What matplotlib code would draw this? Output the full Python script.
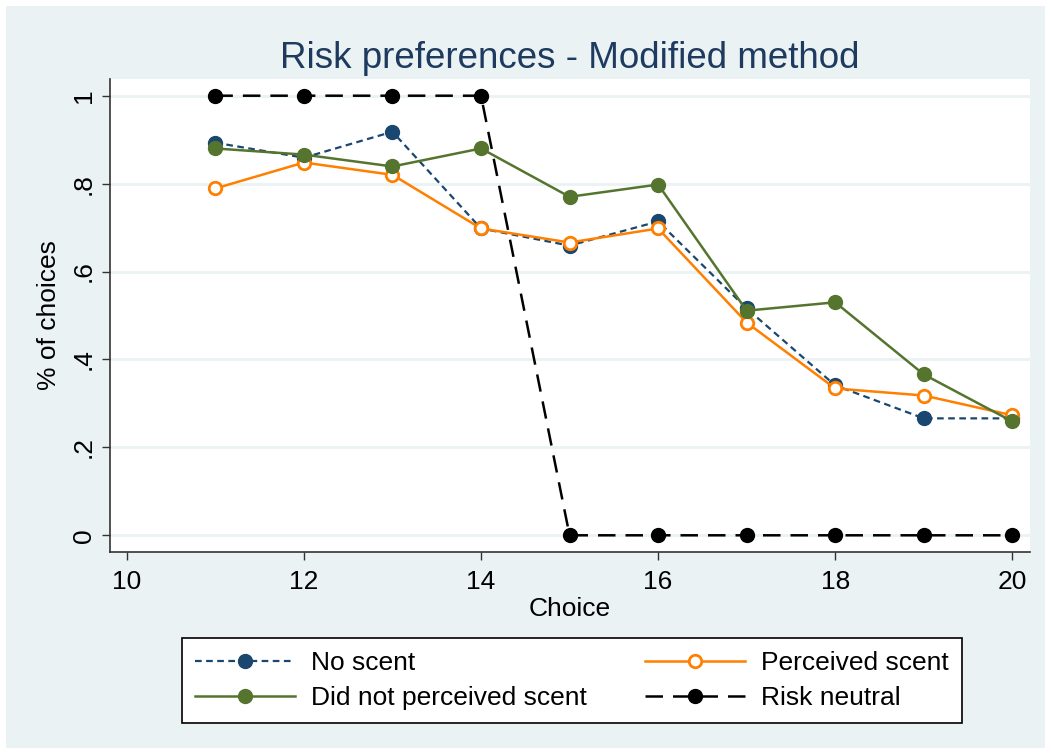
import matplotlib
matplotlib.use('Agg')
import matplotlib.pyplot as plt
from matplotlib.patches import Rectangle

plt.rcParams['font.family'] = ['Liberation Sans', 'DejaVu Sans']

choices = [11, 12, 13, 14, 15, 16, 17, 18, 19, 20]
no_scent = [0.893, 0.859, 0.918, 0.698, 0.659, 0.714, 0.516, 0.341, 0.266, 0.266]
perceived = [0.789, 0.848, 0.820, 0.698, 0.666, 0.698, 0.484, 0.334, 0.318, 0.273]
not_perceived = [0.880, 0.866, 0.839, 0.880, 0.770, 0.798, 0.511, 0.530, 0.366, 0.259]
risk_neutral = [1, 1, 1, 1, 0, 0, 0, 0, 0, 0]

yticks = [0, 0.2, 0.4, 0.6, 0.8, 1.0]
ytick_labels = ['0', '.2', '.4', '.6', '.8', '1']
xticks = [10, 12, 14, 16, 18, 20]

BG = '#EAF2F3'
NAVY = '#1A476F'
ORANGE = '#FF7F00'
GREEN = '#55752F'

fig = plt.figure(figsize=(10.51, 7.54), dpi=100)
fig.patch.set_facecolor('white')
fig.patches.append(Rectangle((6 / 1051, 6 / 754), 1039 / 1051, 742 / 754,
                             transform=fig.transFigure, facecolor=BG,
                             edgecolor='none', zorder=-10))

ax = fig.add_axes([110 / 1051, 1 - 552 / 754, 920 / 1051, 473 / 754])
ax.set_facecolor('white')

h_no, = ax.plot(choices, no_scent, color=NAVY, linewidth=1.6, dashes=(3, 2),
                marker='o', markersize=10, label='No scent')
h_per, = ax.plot(choices, perceived, color=ORANGE, linewidth=1.8,
                 marker='o', markersize=9, markerfacecolor='white',
                 markeredgewidth=2, label='Perceived scent')
h_not, = ax.plot(choices, not_perceived, color=GREEN, linewidth=1.8,
                 marker='o', markersize=10, label='Did not perceived scent')
h_rn, = ax.plot(choices, risk_neutral, color='black', linewidth=1.8, dashes=(7, 4),
                marker='o', markersize=10, label='Risk neutral')

ax.set_xlim(9.81, 20.2)
ax.set_ylim(-0.038, 1.038)
ax.set_xticks(xticks)
ax.set_yticks(yticks)
ax.set_yticklabels(ytick_labels, rotation=90, va='center')
ax.tick_params(axis='both', labelsize=19, length=6, width=1, color='#333333')
ax.tick_params(axis='y', pad=4)
ax.tick_params(axis='x', pad=7)
ax.grid(axis='y', color=BG, linewidth=2)
ax.set_axisbelow(True)
for side in ('top', 'right'):
    ax.spines[side].set_visible(False)
for side in ('left', 'bottom'):
    ax.spines[side].set_color('#333333')
    ax.spines[side].set_linewidth(1.2)

ax.set_xlabel('Choice', fontsize=19, labelpad=2)
ax.set_ylabel('% of choices', fontsize=19, labelpad=8)
ax.set_title('Risk preferences - Modified method', fontsize=26.5,
             color='#1E3A5F', pad=8)

# columns fill top-down, so order handles to get row-wise layout
handles = [h_no, h_not, h_per, h_rn]
leg = fig.legend(handles=handles, labels=[h.get_label() for h in handles],
                 loc='upper center', bbox_to_anchor=(572 / 1051, 1 - 638 / 754),
                 borderaxespad=0, ncol=2, fontsize=19, frameon=True,
                 fancybox=False, edgecolor='black', facecolor='white',
                 framealpha=1, handlelength=3.8, columnspacing=2.2,
                 borderpad=0.5, labelspacing=0.42, handletextpad=0.6)
leg.get_frame().set_linewidth(1.2)

fig.savefig('out.png', dpi=100, facecolor=fig.get_facecolor())
